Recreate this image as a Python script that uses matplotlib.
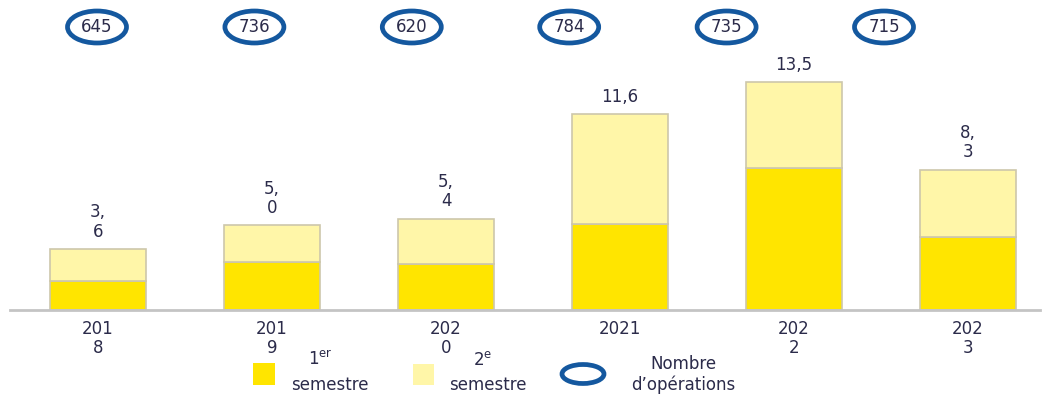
import matplotlib
matplotlib.use("Agg")
import matplotlib.pyplot as plt
from matplotlib.patches import Ellipse, Rectangle

years = ["201\n8", "201\n9", "202\n0", "2021", "202\n2", "202\n3"]
first_sem = [1.7, 2.85, 2.7, 5.1, 8.4, 4.3]
totals = [3.6, 5.0, 5.4, 11.6, 13.5, 8.3]
second_sem = [t - f for t, f in zip(totals, first_sem)]
total_labels = ["3,\n6", "5,\n0", "5,\n4", "11,6", "13,5", "8,\n3"]
operations = [645, 736, 620, 784, 735, 715]

TXT = "#2b2b4a"
Y1 = "#ffe500"
Y2 = "#fff6a8"
EDGE = "#cdc7ab"
BLUE = "#14589f"
FS = 12

plt.rcParams["font.family"] = ["DejaVu Sans"]
plt.rcParams["mathtext.fontset"] = "dejavusans"

W, H = 1048, 397
fig = plt.figure(figsize=(W / 100, H / 100), dpi=100)

# main axes: baseline at y=310px, x from 10 to 1040 px
scale = 16.9  # px per unit
ymax = 14.5
base = 310
ax = fig.add_axes([10 / W, (H - base) / H, 1030 / W, ymax * scale / H])
x = list(range(len(years)))
ax.bar(x, first_sem, width=0.55, color=Y1, edgecolor=EDGE, linewidth=1.2, zorder=2)
ax.bar(x, second_sem, bottom=first_sem, width=0.55, color=Y2, edgecolor=EDGE,
       linewidth=1.2, zorder=2)
ax.set_xlim((10 - 98) / 174, (1040 - 98) / 174)
ax.set_ylim(0, ymax)
for s in ["top", "right", "left"]:
    ax.spines[s].set_visible(False)
ax.spines["bottom"].set_color("#c4c4c4")
ax.spines["bottom"].set_linewidth(2)
ax.set_yticks([])
ax.set_xticks(x)
ax.set_xticklabels(years, fontsize=FS, color=TXT, linespacing=1.1)
ax.tick_params(axis="x", length=0, pad=7)
for xi, t, lab in zip(x, totals, total_labels):
    ax.annotate(lab, (xi, t), xytext=(0, 6), textcoords="offset points",
                ha="center", va="bottom", fontsize=FS, color=TXT, linespacing=1.1)

# overlay in pixel coordinates for ellipses and legend
ov = fig.add_axes([0, 0, 1, 1], zorder=5)
ov.set_xlim(0, W)
ov.set_ylim(H, 0)
ov.axis("off")
ov.patch.set_alpha(0)
for i, v in enumerate(operations):
    cx = 97 + 157.4 * i
    ov.add_patch(Ellipse((cx, 27), 59, 32, fill=False, edgecolor=BLUE, linewidth=3.4))
    ov.text(cx, 27.5, str(v), ha="center", va="center", fontsize=FS, color=TXT)

# legend
ov.add_patch(Rectangle((253, 363), 22, 22, color=Y1, lw=0))
ov.text(320, 360, r"1$^{\mathrm{er}}$", ha="center", va="center", fontsize=FS, color=TXT)
ov.text(330, 385, "semestre", ha="center", va="center", fontsize=FS, color=TXT)
ov.add_patch(Rectangle((413, 364), 21, 21, color=Y2, lw=0))
ov.text(483, 360, r"2$^{\mathrm{e}}$", ha="center", va="center", fontsize=FS, color=TXT)
ov.text(488, 385, "semestre", ha="center", va="center", fontsize=FS, color=TXT)
ov.add_patch(Ellipse((583, 374), 42, 19, fill=False, edgecolor=BLUE, linewidth=3.4))
ov.text(683, 364, "Nombre", ha="center", va="center", fontsize=FS, color=TXT)
ov.text(683, 385, "d\u2019opérations", ha="center", va="center", fontsize=FS, color=TXT)

fig.savefig("out.png", dpi=100)
